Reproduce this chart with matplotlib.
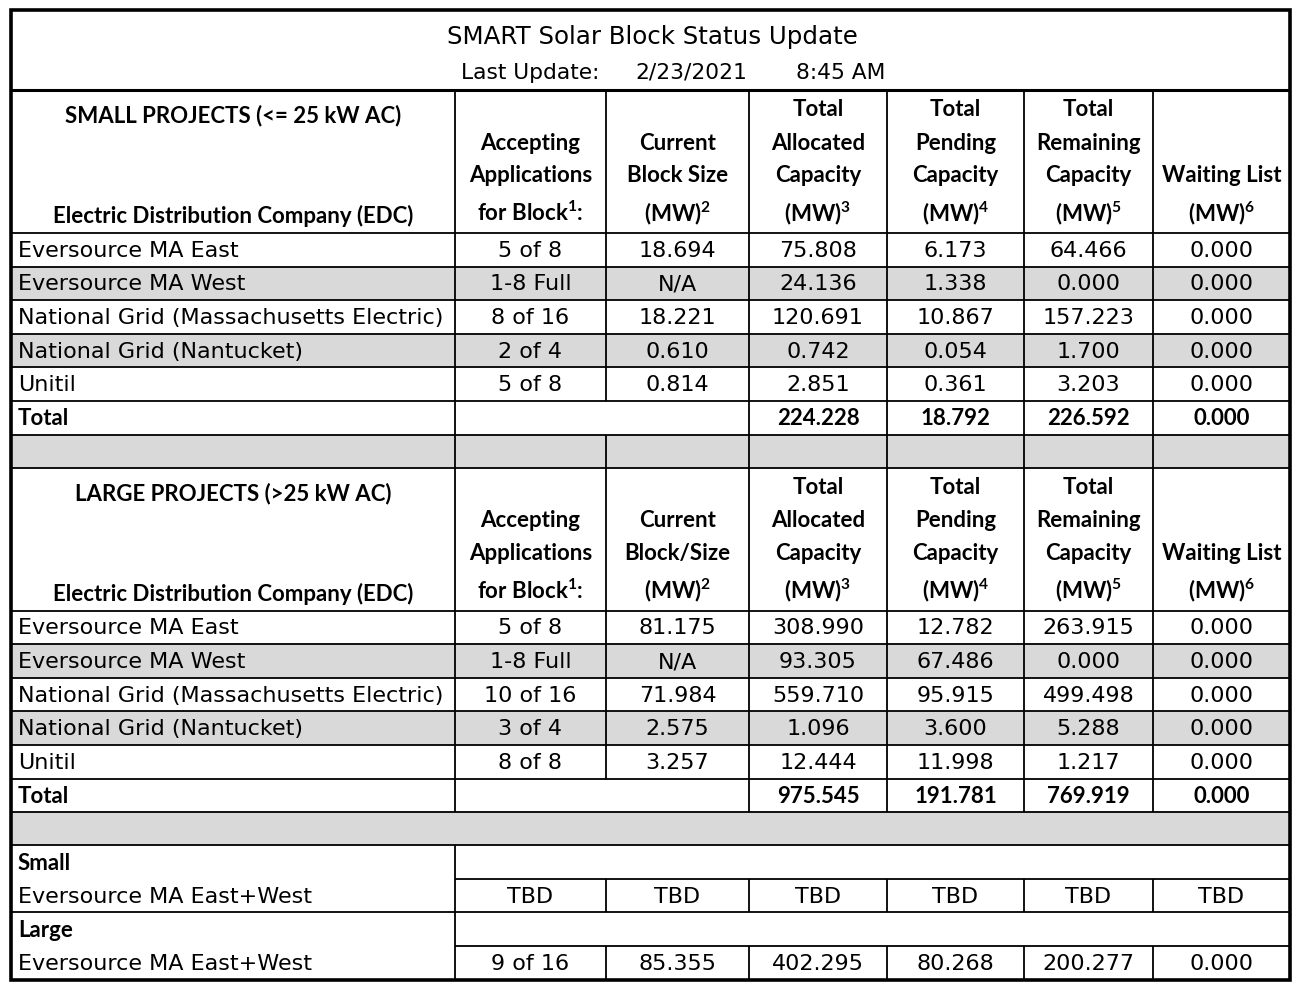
import matplotlib
matplotlib.use("Agg")
import matplotlib.pyplot as plt
from matplotlib.patches import Rectangle

REG = ["DejaVu Sans"]
BOLD = ["Lato", "DejaVu Sans"]
plt.rcParams['font.family'] = REG
plt.rcParams['mathtext.fontset'] = 'custom'
plt.rcParams['mathtext.bf'] = 'Lato:bold'
plt.rcParams['mathtext.rm'] = 'Lato'

# ---------------- data ----------------
title = "SMART Solar Block Status Update"
update_label = "Last Update:"
update_date = "2/23/2021"
update_time = "8:45 AM"

edc_names = ["Eversource MA East", "Eversource MA West",
             "National Grid (Massachusetts Electric)",
             "National Grid (Nantucket)", "Unitil"]

small_block = ["5 of 8", "1-8 Full", "8 of 16", "2 of 4", "5 of 8"]
small_size = ["18.694", "N/A", "18.221", "0.610", "0.814"]
small_alloc = [75.808, 24.136, 120.691, 0.742, 2.851]
small_pending = [6.173, 1.338, 10.867, 0.054, 0.361]
small_remaining = [64.466, 0.000, 157.223, 1.700, 3.203]
small_wait = [0.000, 0.000, 0.000, 0.000, 0.000]
small_totals = [224.228, 18.792, 226.592, 0.000]

large_block = ["5 of 8", "1-8 Full", "10 of 16", "3 of 4", "8 of 8"]
large_size = ["81.175", "N/A", "71.984", "2.575", "3.257"]
large_alloc = [308.990, 93.305, 559.710, 1.096, 12.444]
large_pending = [12.782, 67.486, 95.915, 3.600, 11.998]
large_remaining = [263.915, 0.000, 499.498, 5.288, 1.217]
large_wait = [0.000, 0.000, 0.000, 0.000, 0.000]
large_totals = [975.545, 191.781, 769.919, 0.000]

combined_name = "Eversource MA East+West"
combined_small = ["TBD", "TBD", "TBD", "TBD", "TBD", "TBD"]
combined_large = ["9 of 16", "85.355", "402.295", "80.268", "200.277", "0.000"]

small_title = "SMALL PROJECTS (<= 25 kW AC)"
large_title = "LARGE PROJECTS (>25 kW AC)"
edc_header = "Electric Distribution Company (EDC)"
col_headers_small = [
    ["Accepting", "Applications", r"for Block$^{\mathbf{1}}$:"],
    ["Current", "Block Size", r"(MW)$^{\mathbf{2}}$"],
    ["Total", "Allocated", "Capacity", r"(MW)$^{\mathbf{3}}$"],
    ["Total", "Pending", "Capacity", r"(MW)$^{\mathbf{4}}$"],
    ["Total", "Remaining", "Capacity", r"(MW)$^{\mathbf{5}}$"],
    ["Waiting List", r"(MW)$^{\mathbf{6}}$"],
]
col_headers_large = [
    ["Accepting", "Applications", r"for Block$^{\mathbf{1}}$:"],
    ["Current", "Block/Size", r"(MW)$^{\mathbf{2}}$"],
    ["Total", "Allocated", "Capacity", r"(MW)$^{\mathbf{3}}$"],
    ["Total", "Pending", "Capacity", r"(MW)$^{\mathbf{4}}$"],
    ["Total", "Remaining", "Capacity", r"(MW)$^{\mathbf{5}}$"],
    ["Waiting List", r"(MW)$^{\mathbf{6}}$"],
]

# ---------------- layout ----------------
W, H = 1300, 989
fig = plt.figure(figsize=(13.0, 9.89), dpi=100)
ax = fig.add_axes([0, 0, 1, 1])
ax.set_xlim(0, W)
ax.set_ylim(H, 0)
ax.axis("off")
renderer = fig.canvas.get_renderer()

def fit_size(s, family, weight, target_px):
    t = fig.text(0, 0, s, fontsize=20, family=family, fontweight=weight)
    w = t.get_window_extent(renderer).width
    t.remove()
    return 20 * target_px / w

FS_REG = fit_size("National Grid (Massachusetts Electric)", REG, "normal", 425)
FS_BOLD = fit_size("Electric Distribution Company (EDC)", BOLD, "bold", 360)
FS_TITLE = fit_size(title, REG, "normal", 410)
FS_UPD = fit_size(update_label, REG, "normal", 138)

cx = [11, 455, 606, 749, 887, 1024, 1153, 1290]
GRAY = "#d9d9d9"
LW = 1.3

def hline(y, x0=cx[0], x1=cx[-1], lw=LW):
    ax.plot([x0, x1], [y, y], color="black", lw=lw, solid_capstyle="butt")

def vline(x, y0, y1, lw=LW):
    ax.plot([x, x], [y0, y1], color="black", lw=lw, solid_capstyle="butt")

def fill(y0, y1, x0=cx[0], x1=cx[-1], color=GRAY):
    ax.add_patch(Rectangle((x0, y0), x1 - x0, y1 - y0, facecolor=color, edgecolor="none", zorder=0))

def ctext(x, y, s, bold=False, size=None):
    if bold:
        ax.text(x, y, s, ha="center", va="center", fontsize=size or FS_BOLD,
                family=BOLD, fontweight="bold", color="black")
    else:
        ax.text(x, y, s, ha="center", va="center", fontsize=size or FS_REG,
                family=REG, color="black")

def ltext(y, s, bold=False):
    if bold:
        ax.text(18, y, s, ha="left", va="center", fontsize=FS_BOLD,
                family=BOLD, fontweight="bold", color="black")
    else:
        ax.text(18, y, s, ha="left", va="center", fontsize=FS_REG,
                family=REG, color="black")

# title block
ctext(652, 37, title, size=FS_TITLE)
ctext(530, 73, update_label, size=FS_UPD)
ctext(691, 73, update_date, size=FS_UPD)
ctext(841, 73, update_time, size=FS_UPD)

RH = 33.6

def section(top, sec_title, headers, block, size, alloc, pending, remaining, wait, totals):
    hb = top + 143  # header bottom
    ctext(233, top + 26, sec_title, bold=True)
    ctext(233, top + 126, edc_header, bold=True)
    offs4 = [20, 53, 86, 123]
    for j, lines in enumerate(headers):
        xc = (cx[j + 1] + cx[j + 2]) / 2
        offs = offs4[-len(lines):]
        for s, o in zip(lines, offs):
            ctext(xc, top + o, s, bold=True)
    hline(top)
    for j in range(1, 7):
        vline(cx[j], top, hb)
    for i in range(5):
        y0 = hb + i * RH
        y1 = y0 + RH
        if i in (1, 3):
            fill(y0, y1)
        hline(y0)
        ym = (y0 + y1) / 2 + 1
        ltext(ym, edc_names[i])
        vals = [block[i], size[i], f"{alloc[i]:.3f}", f"{pending[i]:.3f}",
                f"{remaining[i]:.3f}", f"{wait[i]:.3f}"]
        for j, v in enumerate(vals):
            ctext((cx[j + 1] + cx[j + 2]) / 2, ym, v)
        for j in range(1, 7):
            vline(cx[j], y0, y1)
    # total row
    y0 = hb + 5 * RH
    y1 = y0 + RH
    hline(y0)
    ym = (y0 + y1) / 2 + 1
    ltext(ym, "Total", bold=True)
    for j, v in enumerate(totals):
        ctext((cx[j + 3] + cx[j + 4]) / 2, ym, f"{v:.3f}", bold=True)
    for j in (1, 3, 4, 5, 6):
        vline(cx[j], y0, y1)
    hline(y1)
    return y1

# small section
top_small = 90
hline(top_small, lw=2.2)
end_small = section(top_small, small_title, col_headers_small, small_block, small_size,
                    small_alloc, small_pending, small_remaining, small_wait, small_totals)
# gray spacer with column lines
gap_end = end_small + 33
fill(end_small, gap_end)
for j in range(1, 7):
    vline(cx[j], end_small, gap_end)

end_large = section(gap_end, large_title, col_headers_large, large_block, large_size,
                    large_alloc, large_pending, large_remaining, large_wait, large_totals)
# gray spacer merged
gap2 = end_large + 33
fill(end_large, gap2)
hline(gap2)

# combined section
y = gap2
for label, vals in (("Small", combined_small), ("Large", combined_large)):
    ltext(y + RH / 2 + 1, label, bold=True)
    vline(cx[1], y, y + RH)
    hline(y + RH, x0=cx[1])
    y2 = y + RH
    ltext(y2 + RH / 2 + 1, combined_name)
    for j, v in enumerate(vals):
        ctext((cx[j + 1] + cx[j + 2]) / 2, y2 + RH / 2 + 1, v)
    for j in range(1, 7):
        vline(cx[j], y2, y2 + RH)
    y = y2 + RH
    hline(y)

# outer border
ax.add_patch(Rectangle((cx[0], 10), cx[-1] - cx[0], y - 10, facecolor="none",
                       edgecolor="black", lw=2.6, zorder=5))

fig.savefig("out.png", dpi=100, facecolor="white")
